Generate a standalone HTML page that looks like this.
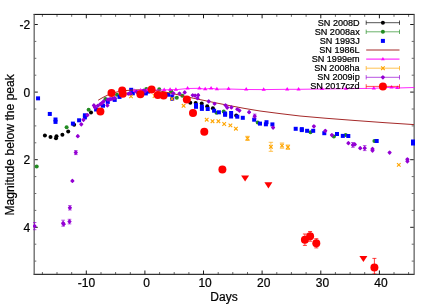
<!DOCTYPE html>
<html><head><meta charset="utf-8"><title>Light curves</title>
<style>html,body{margin:0;padding:0;background:#fff}svg{display:block}text{font-family:"Liberation Sans",sans-serif;fill:#000;stroke:#000;stroke-width:.22px}</style>
</head><body>
<div style="width:436px;height:305px;will-change:transform">
<svg width="436" height="305" viewBox="0 0 436 305">
<rect width="436" height="305" fill="#fff"/>
<defs><clipPath id="c"><rect x="33.0" y="13.5" width="382.2" height="260.6"/></clipPath></defs>
<path d="M86.3 274.3v-3.8M86.3 14.5v3.8M144.9 274.3v-3.8M144.9 14.5v3.8M203.5 274.3v-3.8M203.5 14.5v3.8M262.1 274.3v-3.8M262.1 14.5v3.8M320.8 274.3v-3.8M320.8 14.5v3.8M379.4 274.3v-3.8M379.4 14.5v3.8M34.0 24.5h3.8M414.0 24.5h-3.8M34.0 92.1h3.8M414.0 92.1h-3.8M34.0 159.7h3.8M414.0 159.7h-3.8M34.0 227.3h3.8M414.0 227.3h-3.8" stroke="#000" stroke-width="0.9" fill="none"/>
<path d="M42.4 274.3v-2.3M42.4 14.5v2.3M57.0 274.3v-2.3M57.0 14.5v2.3M71.7 274.3v-2.3M71.7 14.5v2.3M101.0 274.3v-2.3M101.0 14.5v2.3M115.6 274.3v-2.3M115.6 14.5v2.3M130.3 274.3v-2.3M130.3 14.5v2.3M159.6 274.3v-2.3M159.6 14.5v2.3M174.2 274.3v-2.3M174.2 14.5v2.3M188.9 274.3v-2.3M188.9 14.5v2.3M218.2 274.3v-2.3M218.2 14.5v2.3M232.8 274.3v-2.3M232.8 14.5v2.3M247.5 274.3v-2.3M247.5 14.5v2.3M276.8 274.3v-2.3M276.8 14.5v2.3M291.4 274.3v-2.3M291.4 14.5v2.3M306.1 274.3v-2.3M306.1 14.5v2.3M335.4 274.3v-2.3M335.4 14.5v2.3M350.1 274.3v-2.3M350.1 14.5v2.3M364.7 274.3v-2.3M364.7 14.5v2.3M394.0 274.3v-2.3M394.0 14.5v2.3M408.6 274.3v-2.3M408.6 14.5v2.3M34.0 41.4h2.3M414.0 41.4h-2.3M34.0 58.3h2.3M414.0 58.3h-2.3M34.0 75.2h2.3M414.0 75.2h-2.3M34.0 109.0h2.3M414.0 109.0h-2.3M34.0 125.9h2.3M414.0 125.9h-2.3M34.0 142.8h2.3M414.0 142.8h-2.3M34.0 176.6h2.3M414.0 176.6h-2.3M34.0 193.5h2.3M414.0 193.5h-2.3M34.0 210.4h2.3M414.0 210.4h-2.3M34.0 244.2h2.3M414.0 244.2h-2.3M34.0 261.1h2.3M414.0 261.1h-2.3" stroke="#000" stroke-width="0.9" fill="none" opacity=".65"/>
<path d="M33.5 14.4H414.6M33.5 274.3H414.6" stroke="#000" stroke-width="1.0" fill="none"/>
<path d="M34.20 14.5V274.3M414.15 14.5V274.3" stroke="#6a6a6a" stroke-width="1.35" fill="none"/>
<g clip-path="url(#c)">
<circle cx="44.9" cy="135.4" r="2" fill="#000000"/>
<circle cx="50.5" cy="136.9" r="2" fill="#000000"/>
<circle cx="56.5" cy="136.3" r="2" fill="#000000"/>
<circle cx="56.0" cy="138.3" r="2" fill="#000000"/>
<circle cx="62.4" cy="134.8" r="2" fill="#000000"/>
<circle cx="68.2" cy="131.4" r="2" fill="#000000"/>
<circle cx="74.1" cy="124.7" r="2" fill="#000000"/>
<circle cx="91.0" cy="112.6" r="2" fill="#000000"/>
<circle cx="190.3" cy="102.7" r="2" fill="#000000"/>
<circle cx="195.7" cy="103.1" r="2" fill="#000000"/>
<circle cx="201.7" cy="103.4" r="2" fill="#000000"/>
<circle cx="207.2" cy="106.2" r="2" fill="#000000"/>
<circle cx="212.9" cy="108.3" r="2" fill="#000000"/>
<circle cx="236.2" cy="115.4" r="2" fill="#000000"/>
<circle cx="36.7" cy="166.5" r="2" fill="#228b22"/>
<circle cx="66.6" cy="127.3" r="2" fill="#228b22"/>
<circle cx="88.6" cy="109.7" r="2" fill="#228b22"/>
<circle cx="105.5" cy="99.0" r="2" fill="#228b22"/>
<circle cx="117.0" cy="94.8" r="2" fill="#228b22"/>
<circle cx="146.3" cy="89.1" r="2" fill="#228b22"/>
<circle cx="159.2" cy="89.3" r="2" fill="#228b22"/>
<circle cx="171.1" cy="91.2" r="2" fill="#228b22"/>
<circle cx="176.8" cy="97.8" r="2" fill="#228b22"/>
<circle cx="182.3" cy="95.8" r="2" fill="#228b22"/>
<circle cx="216.5" cy="112.8" r="2" fill="#228b22"/>
<circle cx="223.7" cy="111.4" r="2" fill="#228b22"/>
<circle cx="257.7" cy="122.6" r="2" fill="#228b22"/>
<circle cx="310.5" cy="132.2" r="2" fill="#228b22"/>
<circle cx="333.9" cy="136.6" r="2" fill="#228b22"/>
<circle cx="345.7" cy="135.0" r="2" fill="#228b22"/>
<circle cx="374.4" cy="140.9" r="2" fill="#228b22"/>
<rect x="36.05" y="96.35" width="4" height="4" fill="#0000ff"/>
<rect x="47.80" y="111.95" width="4" height="4" fill="#0000ff"/>
<rect x="53.50" y="117.50" width="4" height="4" fill="#0000ff"/>
<rect x="53.50" y="119.90" width="4" height="4" fill="#0000ff"/>
<rect x="70.90" y="121.60" width="4" height="4" fill="#0000ff"/>
<rect x="77.10" y="118.30" width="4" height="4" fill="#0000ff"/>
<rect x="82.90" y="113.30" width="4" height="4" fill="#0000ff"/>
<rect x="82.90" y="115.40" width="4" height="4" fill="#0000ff"/>
<rect x="94.10" y="107.50" width="4" height="4" fill="#0000ff"/>
<rect x="101.00" y="103.70" width="4" height="4" fill="#0000ff"/>
<rect x="105.80" y="99.90" width="4" height="4" fill="#0000ff"/>
<rect x="112.70" y="97.90" width="4" height="4" fill="#0000ff"/>
<rect x="117.50" y="94.90" width="4" height="4" fill="#0000ff"/>
<rect x="129.20" y="87.80" width="4" height="4" fill="#0000ff"/>
<rect x="130.80" y="91.30" width="4" height="4" fill="#0000ff"/>
<rect x="143.80" y="91.40" width="4" height="4" fill="#0000ff"/>
<rect x="145.90" y="89.60" width="4" height="4" fill="#0000ff"/>
<rect x="166.10" y="92.70" width="4" height="4" fill="#0000ff"/>
<rect x="170.20" y="94.40" width="4" height="4" fill="#0000ff"/>
<rect x="170.20" y="96.80" width="4" height="4" fill="#0000ff"/>
<rect x="194.00" y="103.10" width="4" height="4" fill="#0000ff"/>
<rect x="194.00" y="104.80" width="4" height="4" fill="#0000ff"/>
<rect x="199.90" y="104.60" width="4" height="4" fill="#0000ff"/>
<rect x="199.90" y="106.90" width="4" height="4" fill="#0000ff"/>
<rect x="205.70" y="107.00" width="4" height="4" fill="#0000ff"/>
<rect x="212.10" y="108.70" width="4" height="4" fill="#0000ff"/>
<rect x="216.90" y="110.30" width="4" height="4" fill="#0000ff"/>
<rect x="223.10" y="111.50" width="4" height="4" fill="#0000ff"/>
<rect x="223.10" y="112.80" width="4" height="4" fill="#0000ff"/>
<rect x="229.10" y="111.00" width="4" height="4" fill="#0000ff"/>
<rect x="229.10" y="114.50" width="4" height="4" fill="#0000ff"/>
<rect x="235.30" y="114.70" width="4" height="4" fill="#0000ff"/>
<rect x="240.80" y="115.80" width="4" height="4" fill="#0000ff"/>
<rect x="252.20" y="117.70" width="4" height="4" fill="#0000ff"/>
<rect x="258.00" y="121.60" width="4" height="4" fill="#0000ff"/>
<rect x="264.50" y="120.20" width="4" height="4" fill="#0000ff"/>
<rect x="263.90" y="122.30" width="4" height="4" fill="#0000ff"/>
<rect x="270.40" y="122.40" width="4" height="4" fill="#0000ff"/>
<rect x="293.70" y="126.80" width="4" height="4" fill="#0000ff"/>
<rect x="299.80" y="127.10" width="4" height="4" fill="#0000ff"/>
<rect x="299.80" y="128.10" width="4" height="4" fill="#0000ff"/>
<rect x="305.10" y="128.80" width="4" height="4" fill="#0000ff"/>
<rect x="311.20" y="128.80" width="4" height="4" fill="#0000ff"/>
<rect x="322.30" y="131.20" width="4" height="4" fill="#0000ff"/>
<rect x="335.00" y="132.00" width="4" height="4" fill="#0000ff"/>
<rect x="340.80" y="133.90" width="4" height="4" fill="#0000ff"/>
<rect x="346.30" y="134.00" width="4" height="4" fill="#0000ff"/>
<rect x="374.70" y="139.00" width="4" height="4" fill="#0000ff"/>
<rect x="411.00" y="139.50" width="4" height="4" fill="#0000ff"/>
<rect x="411.00" y="141.50" width="4" height="4" fill="#0000ff"/>
<polyline points="98.2,100.2 103.0,97.4 108.3,94.8 113.0,93.0 118.4,91.6 125.0,90.6 133.5,90.0 140.0,89.8 150.0,90.0 160.0,91.0 170.0,93.0 180.0,95.2 189.1,97.3 200.0,99.6 215.0,102.7 230.0,105.7 245.0,108.5 260.0,111.0 280.0,113.6 300.0,116.0 325.0,118.2 355.0,120.5 385.0,122.7 414.0,124.6" stroke="#a52a2a" stroke-width="1" fill="none"/>
<polyline points="134.8,90.8 140.6,90.3 147.2,90.1 164.2,89.9 170.1,89.7 175.9,89.7 187.6,88.5 199.4,88.3 205.2,89.2 211.1,88.3 216.9,89.2 228.6,89.0 246.2,89.5 263.7,89.6 287.2,89.3 298.6,89.3 322.0,89.0 346.0,88.7 373.8,88.3 391.5,87.3 397.3,88.0 414.5,87.5" stroke="#ff00ff" stroke-width="0.85" fill="none"/>
<path d="M134.8 88.4l2.1 3.5h-4.2z" fill="#ff00ff"/>
<path d="M140.6 87.9l2.1 3.5h-4.2z" fill="#ff00ff"/>
<path d="M147.2 87.7l2.1 3.5h-4.2z" fill="#ff00ff"/>
<path d="M164.2 87.5l2.1 3.5h-4.2z" fill="#ff00ff"/>
<path d="M170.1 87.3l2.1 3.5h-4.2z" fill="#ff00ff"/>
<path d="M175.9 87.3l2.1 3.5h-4.2z" fill="#ff00ff"/>
<path d="M187.6 86.1l2.1 3.5h-4.2z" fill="#ff00ff"/>
<path d="M199.4 85.9l2.1 3.5h-4.2z" fill="#ff00ff"/>
<path d="M205.2 86.8l2.1 3.5h-4.2z" fill="#ff00ff"/>
<path d="M211.1 85.9l2.1 3.5h-4.2z" fill="#ff00ff"/>
<path d="M216.9 86.8l2.1 3.5h-4.2z" fill="#ff00ff"/>
<path d="M228.6 86.6l2.1 3.5h-4.2z" fill="#ff00ff"/>
<path d="M246.2 87.1l2.1 3.5h-4.2z" fill="#ff00ff"/>
<path d="M263.7 87.2l2.1 3.5h-4.2z" fill="#ff00ff"/>
<path d="M287.2 86.9l2.1 3.5h-4.2z" fill="#ff00ff"/>
<path d="M298.6 86.9l2.1 3.5h-4.2z" fill="#ff00ff"/>
<path d="M322.0 86.6l2.1 3.5h-4.2z" fill="#ff00ff"/>
<path d="M346.0 86.3l2.1 3.5h-4.2z" fill="#ff00ff"/>
<path d="M373.8 85.9l2.1 3.5h-4.2z" fill="#ff00ff"/>
<path d="M391.5 84.9l2.1 3.5h-4.2z" fill="#ff00ff"/>
<path d="M397.3 85.6l2.1 3.5h-4.2z" fill="#ff00ff"/>
<path d="M129.20 94.60l3.6 3.6m0 -3.6l-3.6 3.6" stroke="#ffa500" stroke-width="1.1" fill="none"/>
<path d="M152.80 94.20l3.6 3.6m0 -3.6l-3.6 3.6" stroke="#ffa500" stroke-width="1.1" fill="none"/>
<path d="M170.20 97.00l3.6 3.6m0 -3.6l-3.6 3.6" stroke="#ffa500" stroke-width="1.1" fill="none"/>
<path d="M181.80 104.00l3.6 3.6m0 -3.6l-3.6 3.6" stroke="#ffa500" stroke-width="1.1" fill="none"/>
<path d="M204.90 117.90l3.6 3.6m0 -3.6l-3.6 3.6" stroke="#ffa500" stroke-width="1.1" fill="none"/>
<path d="M210.70 119.40l3.6 3.6m0 -3.6l-3.6 3.6" stroke="#ffa500" stroke-width="1.1" fill="none"/>
<path d="M216.60 119.40l3.6 3.6m0 -3.6l-3.6 3.6" stroke="#ffa500" stroke-width="1.1" fill="none"/>
<path d="M222.40 122.20l3.6 3.6m0 -3.6l-3.6 3.6" stroke="#ffa500" stroke-width="1.1" fill="none"/>
<path d="M228.60 123.60l3.6 3.6m0 -3.6l-3.6 3.6" stroke="#ffa500" stroke-width="1.1" fill="none"/>
<path d="M234.10 126.90l3.6 3.6m0 -3.6l-3.6 3.6" stroke="#ffa500" stroke-width="1.1" fill="none"/>
<path d="M247.5 136.3V140.5M245.3 136.3h4.4M245.3 140.5h4.4" stroke="#ffa500" stroke-width="0.8" fill="none" opacity=".85"/>
<path d="M245.70 136.60l3.6 3.6m0 -3.6l-3.6 3.6" stroke="#ffa500" stroke-width="1.1" fill="none"/>
<path d="M270.9 142.3V151.3M268.7 142.3h4.4M268.7 151.3h4.4" stroke="#ffa500" stroke-width="0.8" fill="none" opacity=".85"/>
<path d="M269.10 145.00l3.6 3.6m0 -3.6l-3.6 3.6" stroke="#ffa500" stroke-width="1.1" fill="none"/>
<path d="M282.0 143.0V148.2M279.8 143.0h4.4M279.8 148.2h4.4" stroke="#ffa500" stroke-width="0.8" fill="none" opacity=".85"/>
<path d="M280.20 143.80l3.6 3.6m0 -3.6l-3.6 3.6" stroke="#ffa500" stroke-width="1.1" fill="none"/>
<path d="M287.9 145.0V149.4M285.7 145.0h4.4M285.7 149.4h4.4" stroke="#ffa500" stroke-width="0.8" fill="none" opacity=".85"/>
<path d="M286.10 145.40l3.6 3.6m0 -3.6l-3.6 3.6" stroke="#ffa500" stroke-width="1.1" fill="none"/>
<path d="M397.00 163.10l3.6 3.6m0 -3.6l-3.6 3.6" stroke="#ffa500" stroke-width="1.1" fill="none"/>
<path d="M34.6 222.5V229.7M32.8 222.5h3.6M32.8 229.7h3.6" stroke="#9400d3" stroke-width="0.8" fill="none" opacity=".85"/>
<path d="M34.6 224.8l1.35 1.35l-1.35 1.35l-1.35 -1.35z" fill="#9400d3" stroke="#9400d3" stroke-width="1.4" stroke-linejoin="round"/>
<path d="M63.1 220.2V226.2M61.3 220.2h3.6M61.3 226.2h3.6" stroke="#9400d3" stroke-width="0.8" fill="none" opacity=".85"/>
<path d="M63.1 221.8l1.35 1.35l-1.35 1.35l-1.35 -1.35z" fill="#9400d3" stroke="#9400d3" stroke-width="1.4" stroke-linejoin="round"/>
<path d="M63.7 222.8l1.35 1.35l-1.35 1.35l-1.35 -1.35z" fill="#9400d3" stroke="#9400d3" stroke-width="1.4" stroke-linejoin="round"/>
<path d="M69.5 219.3V223.9M67.7 219.3h3.6M67.7 223.9h3.6" stroke="#9400d3" stroke-width="0.8" fill="none" opacity=".85"/>
<path d="M69.5 220.2l1.35 1.35l-1.35 1.35l-1.35 -1.35z" fill="#9400d3" stroke="#9400d3" stroke-width="1.4" stroke-linejoin="round"/>
<path d="M69.9 205.6V210.0M68.1 205.6h3.6M68.1 210.0h3.6" stroke="#9400d3" stroke-width="0.8" fill="none" opacity=".85"/>
<path d="M69.9 206.5l1.35 1.35l-1.35 1.35l-1.35 -1.35z" fill="#9400d3" stroke="#9400d3" stroke-width="1.4" stroke-linejoin="round"/>
<path d="M72.4 179.6l1.35 1.35l-1.35 1.35l-1.35 -1.35z" fill="#9400d3" stroke="#9400d3" stroke-width="1.4" stroke-linejoin="round"/>
<path d="M75.8 150.6V154.6M74.0 150.6h3.6M74.0 154.6h3.6" stroke="#9400d3" stroke-width="0.8" fill="none" opacity=".85"/>
<path d="M75.8 151.2l1.35 1.35l-1.35 1.35l-1.35 -1.35z" fill="#9400d3" stroke="#9400d3" stroke-width="1.4" stroke-linejoin="round"/>
<path d="M77.8 134.8l1.35 1.35l-1.35 1.35l-1.35 -1.35z" fill="#9400d3" stroke="#9400d3" stroke-width="1.4" stroke-linejoin="round"/>
<path d="M81.3 123.0l1.35 1.35l-1.35 1.35l-1.35 -1.35z" fill="#9400d3" stroke="#9400d3" stroke-width="1.4" stroke-linejoin="round"/>
<path d="M83.5 118.5l1.35 1.35l-1.35 1.35l-1.35 -1.35z" fill="#9400d3" stroke="#9400d3" stroke-width="1.4" stroke-linejoin="round"/>
<path d="M87.5 113.7l1.35 1.35l-1.35 1.35l-1.35 -1.35z" fill="#9400d3" stroke="#9400d3" stroke-width="1.4" stroke-linejoin="round"/>
<path d="M93.9 104.1l1.35 1.35l-1.35 1.35l-1.35 -1.35z" fill="#9400d3" stroke="#9400d3" stroke-width="1.4" stroke-linejoin="round"/>
<path d="M95.0 106.1l1.35 1.35l-1.35 1.35l-1.35 -1.35z" fill="#9400d3" stroke="#9400d3" stroke-width="1.4" stroke-linejoin="round"/>
<path d="M97.8 104.4l1.35 1.35l-1.35 1.35l-1.35 -1.35z" fill="#9400d3" stroke="#9400d3" stroke-width="1.4" stroke-linejoin="round"/>
<path d="M100.2 103.0l1.35 1.35l-1.35 1.35l-1.35 -1.35z" fill="#9400d3" stroke="#9400d3" stroke-width="1.4" stroke-linejoin="round"/>
<path d="M101.9 101.7l1.35 1.35l-1.35 1.35l-1.35 -1.35z" fill="#9400d3" stroke="#9400d3" stroke-width="1.4" stroke-linejoin="round"/>
<path d="M103.6 100.1l1.35 1.35l-1.35 1.35l-1.35 -1.35z" fill="#9400d3" stroke="#9400d3" stroke-width="1.4" stroke-linejoin="round"/>
<path d="M107.8 98.2l1.35 1.35l-1.35 1.35l-1.35 -1.35z" fill="#9400d3" stroke="#9400d3" stroke-width="1.4" stroke-linejoin="round"/>
<path d="M109.3 98.1l1.35 1.35l-1.35 1.35l-1.35 -1.35z" fill="#9400d3" stroke="#9400d3" stroke-width="1.4" stroke-linejoin="round"/>
<path d="M110.8 97.8l1.35 1.35l-1.35 1.35l-1.35 -1.35z" fill="#9400d3" stroke="#9400d3" stroke-width="1.4" stroke-linejoin="round"/>
<path d="M112.7 97.2l1.35 1.35l-1.35 1.35l-1.35 -1.35z" fill="#9400d3" stroke="#9400d3" stroke-width="1.4" stroke-linejoin="round"/>
<path d="M114.7 96.7l1.35 1.35l-1.35 1.35l-1.35 -1.35z" fill="#9400d3" stroke="#9400d3" stroke-width="1.4" stroke-linejoin="round"/>
<path d="M107.4 104.1l1.35 1.35l-1.35 1.35l-1.35 -1.35z" fill="#9400d3" stroke="#9400d3" stroke-width="1.4" stroke-linejoin="round"/>
<path d="M128.3 92.4l1.35 1.35l-1.35 1.35l-1.35 -1.35z" fill="#9400d3" stroke="#9400d3" stroke-width="1.4" stroke-linejoin="round"/>
<path d="M130.3 92.1l1.35 1.35l-1.35 1.35l-1.35 -1.35z" fill="#9400d3" stroke="#9400d3" stroke-width="1.4" stroke-linejoin="round"/>
<path d="M136.5 90.5l1.35 1.35l-1.35 1.35l-1.35 -1.35z" fill="#9400d3" stroke="#9400d3" stroke-width="1.4" stroke-linejoin="round"/>
<path d="M143.7 89.2l1.35 1.35l-1.35 1.35l-1.35 -1.35z" fill="#9400d3" stroke="#9400d3" stroke-width="1.4" stroke-linejoin="round"/>
<path d="M145.1 90.0l1.35 1.35l-1.35 1.35l-1.35 -1.35z" fill="#9400d3" stroke="#9400d3" stroke-width="1.4" stroke-linejoin="round"/>
<path d="M173.4 92.0l1.35 1.35l-1.35 1.35l-1.35 -1.35z" fill="#9400d3" stroke="#9400d3" stroke-width="1.4" stroke-linejoin="round"/>
<path d="M179.5 92.2l1.35 1.35l-1.35 1.35l-1.35 -1.35z" fill="#9400d3" stroke="#9400d3" stroke-width="1.4" stroke-linejoin="round"/>
<path d="M184.7 91.1l1.35 1.35l-1.35 1.35l-1.35 -1.35z" fill="#9400d3" stroke="#9400d3" stroke-width="1.4" stroke-linejoin="round"/>
<path d="M192.7 93.9l1.35 1.35l-1.35 1.35l-1.35 -1.35z" fill="#9400d3" stroke="#9400d3" stroke-width="1.4" stroke-linejoin="round"/>
<path d="M195.1 94.2l1.35 1.35l-1.35 1.35l-1.35 -1.35z" fill="#9400d3" stroke="#9400d3" stroke-width="1.4" stroke-linejoin="round"/>
<path d="M198.2 93.8l1.35 1.35l-1.35 1.35l-1.35 -1.35z" fill="#9400d3" stroke="#9400d3" stroke-width="1.4" stroke-linejoin="round"/>
<path d="M197.5 96.9l1.35 1.35l-1.35 1.35l-1.35 -1.35z" fill="#9400d3" stroke="#9400d3" stroke-width="1.4" stroke-linejoin="round"/>
<path d="M208.7 100.1l1.35 1.35l-1.35 1.35l-1.35 -1.35z" fill="#9400d3" stroke="#9400d3" stroke-width="1.4" stroke-linejoin="round"/>
<path d="M214.6 102.4l1.35 1.35l-1.35 1.35l-1.35 -1.35z" fill="#9400d3" stroke="#9400d3" stroke-width="1.4" stroke-linejoin="round"/>
<path d="M225.5 103.9l1.35 1.35l-1.35 1.35l-1.35 -1.35z" fill="#9400d3" stroke="#9400d3" stroke-width="1.4" stroke-linejoin="round"/>
<path d="M227.2 106.2l1.35 1.35l-1.35 1.35l-1.35 -1.35z" fill="#9400d3" stroke="#9400d3" stroke-width="1.4" stroke-linejoin="round"/>
<path d="M231.4 106.1l1.35 1.35l-1.35 1.35l-1.35 -1.35z" fill="#9400d3" stroke="#9400d3" stroke-width="1.4" stroke-linejoin="round"/>
<path d="M237.3 107.9l1.35 1.35l-1.35 1.35l-1.35 -1.35z" fill="#9400d3" stroke="#9400d3" stroke-width="1.4" stroke-linejoin="round"/>
<path d="M239.4 109.2l1.35 1.35l-1.35 1.35l-1.35 -1.35z" fill="#9400d3" stroke="#9400d3" stroke-width="1.4" stroke-linejoin="round"/>
<path d="M249.1 110.8l1.35 1.35l-1.35 1.35l-1.35 -1.35z" fill="#9400d3" stroke="#9400d3" stroke-width="1.4" stroke-linejoin="round"/>
<path d="M254.7 114.1V118.1M252.9 114.1h3.6M252.9 118.1h3.6" stroke="#9400d3" stroke-width="0.8" fill="none" opacity=".85"/>
<path d="M254.7 114.8l1.35 1.35l-1.35 1.35l-1.35 -1.35z" fill="#9400d3" stroke="#9400d3" stroke-width="1.4" stroke-linejoin="round"/>
<path d="M273.1 126.2l1.35 1.35l-1.35 1.35l-1.35 -1.35z" fill="#9400d3" stroke="#9400d3" stroke-width="1.4" stroke-linejoin="round"/>
<path d="M313.9 125.0l1.35 1.35l-1.35 1.35l-1.35 -1.35z" fill="#9400d3" stroke="#9400d3" stroke-width="1.4" stroke-linejoin="round"/>
<path d="M325.3 129.5l1.35 1.35l-1.35 1.35l-1.35 -1.35z" fill="#9400d3" stroke="#9400d3" stroke-width="1.4" stroke-linejoin="round"/>
<path d="M331.9 133.7l1.35 1.35l-1.35 1.35l-1.35 -1.35z" fill="#9400d3" stroke="#9400d3" stroke-width="1.4" stroke-linejoin="round"/>
<path d="M348.4 141.8l1.35 1.35l-1.35 1.35l-1.35 -1.35z" fill="#9400d3" stroke="#9400d3" stroke-width="1.4" stroke-linejoin="round"/>
<path d="M352.9 142.5V147.3M351.1 142.5h3.6M351.1 147.3h3.6" stroke="#9400d3" stroke-width="0.8" fill="none" opacity=".85"/>
<path d="M352.9 143.6l1.35 1.35l-1.35 1.35l-1.35 -1.35z" fill="#9400d3" stroke="#9400d3" stroke-width="1.4" stroke-linejoin="round"/>
<path d="M354.8 143.1l1.35 1.35l-1.35 1.35l-1.35 -1.35z" fill="#9400d3" stroke="#9400d3" stroke-width="1.4" stroke-linejoin="round"/>
<path d="M360.2 146.8l1.35 1.35l-1.35 1.35l-1.35 -1.35z" fill="#9400d3" stroke="#9400d3" stroke-width="1.4" stroke-linejoin="round"/>
<path d="M364.7 145.6V150.6M362.9 145.6h3.6M362.9 150.6h3.6" stroke="#9400d3" stroke-width="0.8" fill="none" opacity=".85"/>
<path d="M364.7 146.8l1.35 1.35l-1.35 1.35l-1.35 -1.35z" fill="#9400d3" stroke="#9400d3" stroke-width="1.4" stroke-linejoin="round"/>
<path d="M372.5 147.6l1.35 1.35l-1.35 1.35l-1.35 -1.35z" fill="#9400d3" stroke="#9400d3" stroke-width="1.4" stroke-linejoin="round"/>
<path d="M372.5 149.2l1.35 1.35l-1.35 1.35l-1.35 -1.35z" fill="#9400d3" stroke="#9400d3" stroke-width="1.4" stroke-linejoin="round"/>
<path d="M389.6 151.2l1.35 1.35l-1.35 1.35l-1.35 -1.35z" fill="#9400d3" stroke="#9400d3" stroke-width="1.4" stroke-linejoin="round"/>
<path d="M407.4 158.0l1.35 1.35l-1.35 1.35l-1.35 -1.35z" fill="#9400d3" stroke="#9400d3" stroke-width="1.4" stroke-linejoin="round"/>
<path d="M407.4 160.0l1.35 1.35l-1.35 1.35l-1.35 -1.35z" fill="#9400d3" stroke="#9400d3" stroke-width="1.4" stroke-linejoin="round"/>
<circle cx="100.4" cy="111.4" r="4" fill="#ff0000"/>
<circle cx="111.5" cy="93.0" r="4" fill="#ff0000"/>
<circle cx="122.2" cy="90.6" r="4" fill="#ff0000"/>
<circle cx="122.8" cy="93.7" r="4" fill="#ff0000"/>
<circle cx="140.4" cy="94.2" r="4" fill="#ff0000"/>
<circle cx="151.6" cy="89.6" r="4" fill="#ff0000"/>
<circle cx="157.8" cy="95.1" r="4" fill="#ff0000"/>
<circle cx="163.6" cy="95.4" r="4" fill="#ff0000"/>
<circle cx="186.8" cy="99.5" r="4" fill="#ff0000"/>
<circle cx="193.0" cy="112.9" r="4" fill="#ff0000"/>
<circle cx="204.3" cy="131.8" r="4" fill="#ff0000"/>
<circle cx="222.4" cy="169.6" r="4" fill="#ff0000"/>
<path d="M304.9 234.0V245.4M302.9 234.0h4.0M302.9 245.4h4.0" stroke="#ff0000" stroke-width="0.9" fill="none" opacity=".85"/>
<circle cx="304.9" cy="239.7" r="4" fill="#ff0000"/>
<path d="M310.1 231.5V241.2M308.1 231.5h4.0M308.1 241.2h4.0" stroke="#ff0000" stroke-width="0.9" fill="none" opacity=".85"/>
<circle cx="310.1" cy="236.2" r="4" fill="#ff0000"/>
<path d="M316.3 238.7V247.9M314.3 238.7h4.0M314.3 247.9h4.0" stroke="#ff0000" stroke-width="0.9" fill="none" opacity=".85"/>
<circle cx="316.3" cy="243.3" r="4" fill="#ff0000"/>
<path d="M374.4 258.4V274.0M372.4 258.4h4.0M372.4 274.0h4.0" stroke="#ff0000" stroke-width="0.9" fill="none" opacity=".85"/>
<circle cx="374.4" cy="267.4" r="4" fill="#ff0000"/>
<path d="M241.1 175.4h8l-4 6.2z" fill="#ff0000"/>
<path d="M264.4 182.2h8l-4 6.2z" fill="#ff0000"/>
<path d="M359.4 255.9h8l-4 6.2z" fill="#ff0000"/>
</g>
<text x="359.7" y="25.5" font-size="9.1" text-anchor="end">SN 2008D</text>
<text x="359.7" y="34.6" font-size="9.1" text-anchor="end">SN 2008ax</text>
<text x="359.7" y="43.7" font-size="9.1" text-anchor="end">SN 1993J</text>
<text x="359.7" y="52.8" font-size="9.1" text-anchor="end">SN 1986L</text>
<text x="359.7" y="61.9" font-size="9.1" text-anchor="end">SN 1999em</text>
<text x="359.7" y="71.0" font-size="9.1" text-anchor="end">SN 2008ha</text>
<text x="359.7" y="80.1" font-size="9.1" text-anchor="end">SN 2009ip</text>
<text x="359.7" y="89.2" font-size="9.1" text-anchor="end">SN 2017czd</text>
<path d="M366.2 22.7H399.5M366.2 20.5v4.4M399.5 20.5v4.4" stroke="#000000" stroke-width="0.8" fill="none" opacity=".85"/>
<circle cx="382.9" cy="22.7" r="2" fill="#000000"/>
<path d="M366.2 31.8H399.5M366.2 29.6v4.4M399.5 29.6v4.4" stroke="#228b22" stroke-width="0.8" fill="none" opacity=".85"/>
<circle cx="382.9" cy="31.8" r="2" fill="#228b22"/>
<rect x="380.90" y="38.90" width="4" height="4" fill="#0000ff"/>
<path d="M366.2 50.0H399.5" stroke="#a52a2a" stroke-width="1"/>
<path d="M366.2 59.1H399.5" stroke="#ff00ff" stroke-width="1"/>
<path d="M382.9 56.9l1.9 3.3h-3.8z" fill="#ff00ff"/>
<path d="M366.2 68.2H399.5M366.2 66.0v4.4M399.5 66.0v4.4" stroke="#ffa500" stroke-width="0.8" fill="none" opacity=".85"/>
<path d="M381.10 66.40l3.6 3.6m0 -3.6l-3.6 3.6" stroke="#ffa500" stroke-width="1.1" fill="none"/>
<path d="M366.2 77.3H399.5M366.2 75.1v4.4M399.5 75.1v4.4" stroke="#9400d3" stroke-width="0.8" fill="none" opacity=".85"/>
<path d="M382.9 76.0l1.35 1.35l-1.35 1.35l-1.35 -1.35z" fill="#9400d3" stroke="#9400d3" stroke-width="1.4" stroke-linejoin="round"/>
<path d="M366.2 86.4H399.5M366.2 84.2v4.4M399.5 84.2v4.4" stroke="#ff0000" stroke-width="0.8" fill="none" opacity=".85"/>
<circle cx="382.9" cy="86.4" r="4" fill="#ff0000"/>
<text x="86.4" y="287.2" font-size="12" text-anchor="middle">-10</text>
<text x="146.5" y="287.2" font-size="12" text-anchor="middle">0</text>
<text x="205.1" y="287.2" font-size="12" text-anchor="middle">10</text>
<text x="263.8" y="287.2" font-size="12" text-anchor="middle">20</text>
<text x="322.4" y="287.2" font-size="12" text-anchor="middle">30</text>
<text x="381.0" y="287.2" font-size="12" text-anchor="middle">40</text>
<text x="30.2" y="29.2" font-size="12" text-anchor="end">-2</text>
<text x="30.2" y="96.8" font-size="12" text-anchor="end">0</text>
<text x="30.2" y="164.4" font-size="12" text-anchor="end">2</text>
<text x="30.2" y="232.0" font-size="12" text-anchor="end">4</text>
<text x="224" y="300.5" font-size="12" text-anchor="middle">Days</text>
<text transform="translate(14.3,144.8) rotate(-90)" font-size="12.12" text-anchor="middle">Magnitude below the peak</text>
</svg>
</div>
</body></html>
